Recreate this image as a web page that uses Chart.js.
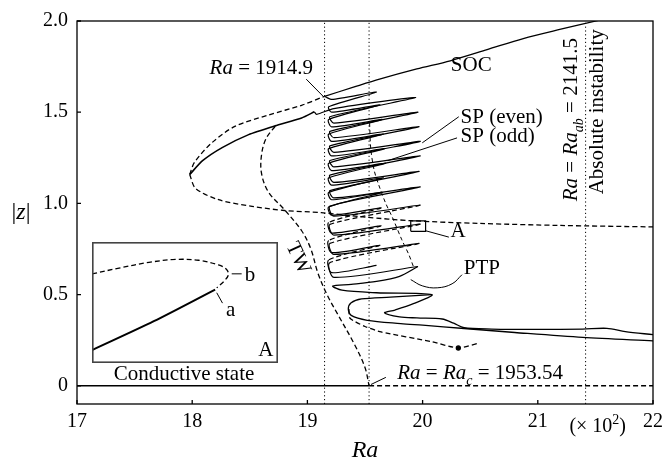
<!DOCTYPE html>
<html>
<head>
<meta charset="utf-8">
<script src="https://cdn.jsdelivr.net/npm/chart.js@4.4.0/dist/chart.umd.min.js"></script>
<style>
  html, body { margin: 0; padding: 0; background: #fff; }
  #wrap { position: relative; width: 669px; height: 464px; }
  #main { position: absolute; left: 0; top: 0; }
  #inset { position: absolute; }
</style>
</head>
<body>
<div id="wrap">
  <canvas id="main" width="669" height="464"></canvas>
  <canvas id="inset"></canvas>
</div>
<script>
// ── axes ─────────────────────────────────────────────────────────────────────
const xTicks = [17, 18, 19, 20, 21, 22];
const yTicks = [0, 0.5, 1.0, 1.5, 2.0];
const yTickLabels = ["0", "0.5", "1.0", "1.5", "2.0"];

// critical Rayleigh numbers (units of 10^2)
const raSOC = 19.149;   // Ra = 1914.9
const raC   = 19.5354;  // Ra_c = 1953.54
const raAb  = 21.415;   // Ra_ab = 2141.5

// zoom window "A" and where its blow-up sits in the main plot
const boxRa   = [19.897, 20.026];
const boxZ    = [0.847, 0.904];
const insetRa = [17.133, 18.747];
const insetZ  = [0.126, 0.788];

// ── branches: [Ra/100, |z|] ─────────────────────────────────────────────────
const socBranch = [[19.149,1.587],[19.4,1.637],[19.626,1.681],[19.95,1.737],[20.24,1.782],
  [20.56,1.843],[20.874,1.904],[21.2,1.955],[21.497,1.999],[21.6,2.015]];
const noseUpper = [[17.978,1.158],[18.02,1.225],[18.17,1.332],[18.37,1.422],[18.66,1.484],
  [18.95,1.538],[19.149,1.587]];
const noseStable = [[17.978,1.158],[18.09,1.234],[18.26,1.306],[18.49,1.377],[18.72,1.425],
  [18.95,1.468],[19.06,1.502]];
const noseLower = [[17.978,1.158],[18.03,1.082],[18.23,1.02],[18.52,0.984],[18.80,0.961],
  [19.12,0.949],[19.5,0.925],[19.9,0.905],[20.5,0.89],[21.2,0.879],[22,0.871]];
const twBranch = [[18.72,1.422],[18.645,1.36],[18.605,1.28],[18.60,1.171],[18.66,1.064],
  [18.80,0.966],[18.95,0.85],[19.03,0.75],[19.09,0.62],[19.17,0.50],[19.265,0.39],
  [19.41,0.225],[19.50,0.10],[19.5354,0]];
// snaking branches: each leaf runs out to a right fold and back to a left fold
const spEven = [[19.06,1.502],[19.08,1.488],
  [19.23,1.52],[19.94,1.58],[19.195,1.475],
  [19.23,1.44],[19.96,1.50],[19.195,1.395],
  [19.23,1.36],[19.97,1.42],[19.195,1.315],
  [19.23,1.28],[19.98,1.34],[19.195,1.235],
  [19.23,1.20],[19.98,1.26],[19.195,1.155],
  [19.23,1.115],[19.97,1.175],[19.195,1.07],
  [19.23,1.03],[19.98,1.09],[19.195,0.985],
  [19.23,0.93],[19.98,0.99],[19.195,0.885],
  [19.23,0.826],[19.98,0.886],[19.195,0.781],
  [19.23,0.72],[19.97,0.78],[19.195,0.675],
  [19.23,0.594],[19.96,0.654]];
const spOdd = [[19.149,1.587],[19.17,1.58],
  [19.21,1.57],[19.60,1.61],[19.185,1.53],
  [19.21,1.50],[19.63,1.54],[19.185,1.46],
  [19.21,1.42],[19.65,1.46],[19.185,1.38],
  [19.21,1.34],[19.66,1.38],[19.185,1.30],
  [19.21,1.26],[19.67,1.30],[19.185,1.22],
  [19.21,1.18],[19.68,1.22],[19.185,1.14],
  [19.21,1.10],[19.66,1.14],[19.185,1.06],
  [19.21,1.02],[19.65,1.06],[19.185,0.98],
  [19.21,0.935],[19.64,0.975],[19.185,0.895],
  [19.21,0.837],[19.64,0.877],[19.185,0.797],
  [19.21,0.73],[19.63,0.77],[19.185,0.69],
  [19.21,0.62],[19.60,0.66]];
const spInner = [[19.54,1.44],[19.55,1.30],[19.58,1.18],[19.62,1.10],[19.68,1.00],[19.74,0.92],
  [19.82,0.80],[19.88,0.72],[19.92,0.654]];
const ptpMain = [[19.96,0.654],[19.80,0.60],[19.60,0.572],[19.38,0.556],[19.22,0.547],[19.30,0.524],
  [19.60,0.51],[20.08,0.50],[19.92,0.45],[19.76,0.415],[19.67,0.40],[19.80,0.378],[19.95,0.372],
  [20.17,0.366],[20.27,0.343],[20.36,0.318],[20.6,0.311],[21.0,0.309],[21.39,0.311],[21.6,0.315],
  [21.76,0.297],[22.0,0.28]];
const ptpLower = [[20.08,0.50],[19.72,0.486],[19.47,0.476],[19.38,0.455],[19.355,0.421],[19.38,0.386],
  [19.52,0.359],[19.81,0.341],[20.0,0.332],[20.36,0.314],[20.8,0.292],[21.39,0.265],[22.0,0.246]];
const ptpUnstable = [[19.36,0.42],[19.37,0.37],[19.50,0.325],[19.64,0.295],[20.07,0.243],
  [20.31,0.207],[20.49,0.234]];
const ptpFold = [[20.31,0.207]];

// label pointers
const leader1914 = [[18.99,1.681],[19.14,1.585]];
const leaderEven = [[20.314,1.475],[19.997,1.332]];
const leaderOdd  = [[20.299,1.359],[19.696,1.234]];
const leaderBox  = [[20.026,0.85],[20.228,0.815]];
const leaderPTP  = [[19.897,0.582],[19.997,0.548],[20.127,0.537],[20.256,0.559],[20.342,0.609]];
const leaderRac  = [[19.681,0.046],[19.552,0.007]];

// blow-up of window A
const insetUnstable = [[19.897,0.889],[19.9158,0.8917],[19.9365,0.8944],[19.9549,0.8958],
  [19.9709,0.8954],[19.9847,0.8932],[19.9902,0.8912],[19.9916,0.8886],[19.9888,0.8857],[19.9835,0.8824]];
const insetStable = [[19.8974,0.8532],[19.9399,0.8667],[19.9824,0.8816]];
const insetLeaderA = [[19.9835,0.8801],[19.9875,0.8752]];
const insetLeaderB = [[19.9939,0.889],[20.0008,0.889]];

// ── helpers ─────────────────────────────────────────────────────────────────
const FAMILY = "'Liberation Serif', 'Times New Roman', serif";
const DASH = [5, 3];
const DOT = [1.2, 2.6];
Chart.defaults.font.family = FAMILY;
Chart.defaults.color = "#000";

const pts = a => a.map(([x, y]) => ({ x, y }));
function curve(data, opts = {}) {
  return Object.assign({
    data: pts(data), showLine: true, borderColor: "#000", backgroundColor: "#000",
    borderWidth: 1.3, pointRadius: 0, tension: 0, fill: false
  }, opts);
}
const vline = ra => [[ra, -0.1], [ra, 2.0]];
const rect = (rx, rz) => [[rx[0], rz[0]], [rx[1], rz[0]], [rx[1], rz[1]], [rx[0], rz[1]], [rx[0], rz[0]]];

// lower returning strands of the snakes are unstable
const returnDash = c => (c.p0.parsed.y < 1.02 && c.p1.parsed.x < c.p0.parsed.x - 0.1) ? DASH : undefined;

// mixed italic / upright / sub / superscript text
function rich(ctx, parts, x, y, align, size) {
  const font = p => `${p.i ? "italic " : ""}${p.s ? Math.round(size * 0.68) : size}px ${FAMILY}`;
  let w = 0;
  parts.forEach(p => { ctx.font = font(p); w += ctx.measureText(p.t).width; });
  let cx = align === "right" ? x - w : align === "center" ? x - w / 2 : x;
  ctx.textAlign = "left";
  ctx.textBaseline = "alphabetic";
  parts.forEach(p => {
    ctx.font = font(p);
    const dy = p.s === "sub" ? size * 0.28 : p.s === "sup" ? -size * 0.42 : 0;
    ctx.fillText(p.t, cx, y + dy);
    cx += ctx.measureText(p.t).width;
  });
}

const annotations = {
  id: "annotations",
  afterDraw(chart) {
    const { ctx, chartArea: a, scales: { x, y } } = chart;
    const X = v => x.getPixelForValue(v), Y = v => y.getPixelForValue(v);
    const S = 21;
    ctx.save();
    // frame and inward ticks
    ctx.strokeStyle = "#000";
    ctx.lineWidth = 1.3;
    ctx.strokeRect(a.left, a.top, a.right - a.left, a.bottom - a.top);
    ctx.beginPath();
    xTicks.forEach(v => { ctx.moveTo(X(v), a.bottom); ctx.lineTo(X(v), a.bottom - 4); });
    yTicks.forEach(v => { ctx.moveTo(a.left, Y(v)); ctx.lineTo(a.left + 4, Y(v)); });
    ctx.stroke();

    ctx.fillStyle = "#000";
    rich(ctx, [{ t: "Ra", i: 1 }, { t: " = 1914.9" }], X(19.049), Y(1.711), "right", S);
    rich(ctx, [{ t: "SOC" }], X(20.245), Y(1.725), "left", S);
    rich(ctx, [{ t: "SP (even)" }], X(20.33), Y(1.438), "left", S);
    rich(ctx, [{ t: "SP (odd)" }], X(20.33), Y(1.336), "left", S);
    rich(ctx, [{ t: "A" }], X(20.243), Y(0.816), "left", S);
    rich(ctx, [{ t: "PTP" }], X(20.357), Y(0.613), "left", S);
    rich(ctx, [{ t: "Ra", i: 1 }, { t: " = " }, { t: "Ra", i: 1 }, { t: "c", i: 1, s: "sub" }, { t: " = 1953.54" }],
      X(19.78), Y(0.039), "left", S);
    rich(ctx, [{ t: "Conductive state" }], X(17.929), Y(0.032), "center", S);

    // TW, tilted along its branch
    ctx.save();
    ctx.translate(X(18.93), Y(0.704));
    ctx.rotate(65 * Math.PI / 180);
    rich(ctx, [{ t: "TW" }], 0, 7, "center", S);
    ctx.restore();

    // absolute-instability threshold labels
    ctx.save();
    ctx.translate(X(21.342), Y(1.459));
    ctx.rotate(-Math.PI / 2);
    rich(ctx, [{ t: "Ra", i: 1 }, { t: " = " }, { t: "Ra", i: 1 }, { t: "ab", i: 1, s: "sub" }, { t: " = 2141.5" }],
      0, 0, "center", S);
    ctx.restore();
    ctx.save();
    ctx.translate(X(21.566), Y(1.502));
    ctx.rotate(-Math.PI / 2);
    rich(ctx, [{ t: "Absolute instability" }], 0, 0, "center", S);
    ctx.restore();

    // axis titles and scale factor
    rich(ctx, [{ t: "(× 10" }, { t: "2", s: "sup" }, { t: ")" }], X(21.52), a.bottom + 28, "center", 20);
    rich(ctx, [{ t: "Ra", i: 1 }], (a.left + a.right) / 2, a.bottom + 53, "center", 24);
    rich(ctx, [{ t: "|" }, { t: "z", i: 1 }, { t: "|" }], a.left - 56, Y(0.917), "center", 24);
    ctx.restore();
  }
};

const mainChart = new Chart(document.getElementById("main"), {
  type: "scatter",
  data: {
    datasets: [
      curve(vline(raSOC), { borderWidth: 1, borderDash: DOT }),
      curve(vline(raC), { borderWidth: 1, borderDash: DOT }),
      curve(vline(raAb), { borderWidth: 1, borderDash: DOT }),
      curve([[17, 0], [raC, 0]]),
      curve([[raC, 0], [22, 0]], { borderDash: DASH }),
      curve(socBranch, { tension: 0.3 }),
      curve(noseUpper, { borderDash: DASH, tension: 0.3 }),
      curve(noseStable, { borderWidth: 1.6, tension: 0.2 }),
      curve(noseLower, { borderDash: DASH, tension: 0.3 }),
      curve(twBranch, { borderDash: DASH, tension: 0.35 }),
      curve(spInner, { borderDash: [4, 3], borderWidth: 1, tension: 0.3 }),
      curve(spEven, { borderWidth: 1.2, tension: 0.25, segment: { borderDash: returnDash } }),
      curve(spOdd, { borderWidth: 1.2, tension: 0.25, segment: { borderDash: returnDash } }),
      curve(ptpMain, { tension: 0.3 }),
      curve(ptpLower, { tension: 0.3 }),
      curve(ptpUnstable, { borderDash: DASH, tension: 0.2 }),
      curve(ptpFold, { showLine: false, pointRadius: 2 }),
      curve(rect(boxRa, boxZ), { borderWidth: 1.2 }),
      curve(leader1914, { borderWidth: 1 }),
      curve(leaderEven, { borderWidth: 1 }),
      curve(leaderOdd, { borderWidth: 1 }),
      curve(leaderBox, { borderWidth: 1 }),
      curve(leaderPTP, { borderWidth: 1, tension: 0.4 }),
      curve(leaderRac, { borderWidth: 1 })
    ]
  },
  options: {
    responsive: false,
    animation: false,
    devicePixelRatio: 1,
    layout: { padding: { top: 12, right: 12, left: 0, bottom: 0 } },
    plugins: { legend: { display: false }, tooltip: { enabled: false } },
    scales: {
      x: {
        type: "linear", min: 17, max: 22,
        grid: { display: false, drawTicks: false },
        border: { display: false },
        afterFit: s => { s.height = 60; },
        afterBuildTicks: s => { s.ticks = xTicks.map(v => ({ value: v })); },
        ticks: { padding: 6, font: { size: 20 }, maxRotation: 0, autoSkip: false, callback: v => String(v) }
      },
      y: {
        type: "linear", min: -0.1, max: 2.0,
        grid: { display: false, drawTicks: false },
        border: { display: false },
        afterFit: s => { s.width = 77; },
        afterBuildTicks: s => { s.ticks = yTicks.map(v => ({ value: v })); },
        ticks: { padding: 9, font: { size: 20 }, autoSkip: false, callback: v => yTickLabels[yTicks.indexOf(v)] }
      }
    }
  },
  plugins: [annotations]
});

// ── blow-up of window A, placed inside the main axes ───────────────────────
const sx = mainChart.scales.x, sy = mainChart.scales.y;
const insetLeft = Math.round(sx.getPixelForValue(insetRa[0]));
const insetRight = Math.round(sx.getPixelForValue(insetRa[1]));
const insetTop = Math.round(sy.getPixelForValue(insetZ[1]));
const insetBottom = Math.round(sy.getPixelForValue(insetZ[0]));
const insetCanvas = document.getElementById("inset");
insetCanvas.width = insetRight - insetLeft;
insetCanvas.height = insetBottom - insetTop;
insetCanvas.style.left = insetLeft + "px";
insetCanvas.style.top = insetTop + "px";

const insetDecor = {
  id: "insetDecor",
  beforeDraw(chart) {
    const { ctx, width, height } = chart;
    ctx.save();
    ctx.fillStyle = "#fff";
    ctx.fillRect(0, 0, width, height);
    ctx.restore();
  },
  afterDraw(chart) {
    const { ctx, width, height, scales: { x, y } } = chart;
    const X = v => x.getPixelForValue(v), Y = v => y.getPixelForValue(v);
    ctx.save();
    ctx.strokeStyle = "#444";
    ctx.lineWidth = 1.6;
    ctx.strokeRect(0.8, 0.8, width - 1.6, height - 1.6);
    ctx.fillStyle = "#000";
    rich(ctx, [{ t: "b" }], X(20.003), Y(0.8855), "left", 21);
    rich(ctx, [{ t: "a" }], X(19.990), Y(0.8693), "left", 21);
    rich(ctx, [{ t: "A" }], X(20.0229), Y(0.8505), "right", 21);
    ctx.restore();
  }
};

new Chart(insetCanvas, {
  type: "scatter",
  data: {
    datasets: [
      curve(insetUnstable, { borderDash: DASH, tension: 0.35 }),
      curve(insetStable, { borderWidth: 2, tension: 0.3 }),
      curve(insetLeaderA, { borderWidth: 1 }),
      curve(insetLeaderB, { borderWidth: 1 })
    ]
  },
  options: {
    responsive: false,
    animation: false,
    devicePixelRatio: 1,
    layout: { padding: 0 },
    plugins: { legend: { display: false }, tooltip: { enabled: false } },
    scales: {
      x: { type: "linear", min: boxRa[0], max: boxRa[1], display: false },
      y: { type: "linear", min: boxZ[0], max: boxZ[1], display: false }
    }
  },
  plugins: [insetDecor]
});
</script>
</body>
</html>
